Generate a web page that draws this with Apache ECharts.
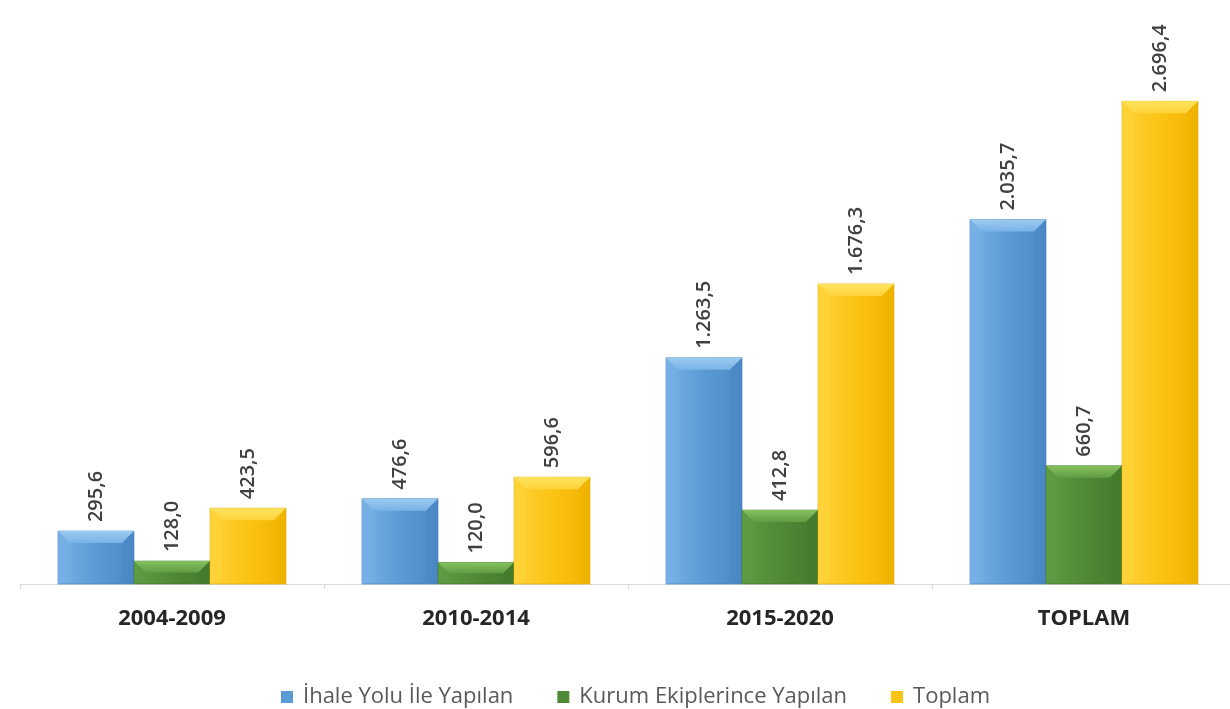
<!DOCTYPE html>
<html>
<head>
<meta charset="utf-8">
<script src="https://cdn.jsdelivr.net/npm/echarts@6/dist/echarts.min.js"></script>
<style>
  html, body { margin: 0; padding: 0; background: #ffffff; }
  #chart { width: 1230px; height: 709px; }
</style>
</head>
<body>
<div id="chart"></div>
<script>
// Periods shown along the x axis
const categories = ['2004-2009', '2010-2014', '2015-2020', 'TOPLAM'];

// Values per series (same order as categories)
const ihaleYolu = [295.6, 476.6, 1263.5, 2035.7];
const kurumEkipleri = [128.0, 120.0, 412.8, 660.7];
const toplam = [423.5, 596.6, 1676.3, 2696.4];

const seriesNames = ['İhale Yolu İle Yapılan', 'Kurum Ekiplerince Yapılan', 'Toplam'];
const seriesValues = [ihaleYolu, kurumEkipleri, toplam];

// Colour sets for the bevelled bars
const palettes = [
  { main: '#5b9bd5', light: '#79b2e6', dark: '#4a88c4', top: '#9ccbf1', edge: '#3f7bb6' },
  { main: '#4f8a36', light: '#5f9c43', dark: '#437a2d', top: '#86c160', edge: '#3b6e27' },
  { main: '#fbc314', light: '#ffd33a', dark: '#f0b400', top: '#ffe45e', edge: '#e1a800' }
];

// Turkish number format: 2.696,4
function formatTr(v) {
  const parts = v.toFixed(1).split('.');
  const intPart = parts[0].replace(/\B(?=(\d{3})+(?!\d))/g, '.');
  return intPart + ',' + parts[1];
}

function makeRenderer(idx) {
  const pal = palettes[idx];
  return function (params, api) {
    const cat = api.value(0);
    const val = api.value(1);
    const base = api.coord([cat, 0]);
    const topPt = api.coord([cat, val]);
    const catW = api.size([1, 0])[0];
    const bw = catW * 0.25;
    const x0 = base[0] + (idx - 1.5) * bw;
    const x1 = x0 + bw;
    const y0 = topPt[1];
    const y1 = base[1];
    const h = y1 - y0;
    const b = Math.min(12, h / 2);
    return {
      type: 'group',
      children: [
        {
          type: 'rect',
          shape: { x: x0, y: y0, width: bw, height: h },
          style: {
            fill: new echarts.graphic.LinearGradient(0, 0, 1, 0, [
              { offset: 0, color: pal.light },
              { offset: 0.5, color: pal.main },
              { offset: 1, color: pal.dark }
            ]),
            stroke: pal.edge,
            lineWidth: 0.6
          }
        },
        {
          type: 'polygon',
          shape: { points: [[x0, y0], [x1, y0], [x1 - b, y0 + b], [x0 + b, y0 + b]] },
          style: {
            fill: new echarts.graphic.LinearGradient(0, 0, 0, 1, [
              { offset: 0, color: pal.top },
              { offset: 1, color: pal.light }
            ])
          }
        },
        {
          type: 'polygon',
          shape: { points: [[x0, y0], [x0 + b, y0 + b], [x0 + b, y1 - Math.min(b, 3)], [x0, y1]] },
          style: { fill: pal.light, opacity: 0.45 }
        },
        {
          type: 'polygon',
          shape: { points: [[x1, y0], [x1 - b, y0 + b], [x1 - b, y1 - Math.min(b, 3)], [x1, y1]] },
          style: { fill: pal.dark, opacity: 0.45 }
        },
        {
          type: 'text',
          x: (x0 + x1) / 2,
          y: y0 - 9,
          rotation: Math.PI / 2,
          style: {
            text: formatTr(val),
            fill: '#404040',
            font: '600 20px "Open Sans", sans-serif',
            align: 'left',
            verticalAlign: 'middle'
          }
        }
      ]
    };
  };
}

const chart = echarts.init(document.getElementById('chart'));

chart.setOption({
  backgroundColor: '#ffffff',
  animation: false,
  grid: { left: 20, width: 1216, top: 47, bottom: 125, outerBoundsMode: 'none' },
  legend: {
    data: seriesNames,
    top: 681,
    left: 276,
    icon: 'rect',
    itemWidth: 12,
    itemHeight: 12,
    itemGap: 44,
    textStyle: {
      color: '#595959',
      fontSize: 22,
      fontFamily: '"Open Sans", sans-serif',
      padding: [0, 0, 0, 5]
    }
  },
  xAxis: {
    type: 'category',
    data: categories,
    axisLine: { lineStyle: { color: '#d9d9d9' } },
    axisTick: { show: true, length: 5, lineStyle: { color: '#d9d9d9' } },
    axisLabel: {
      color: '#262626',
      fontSize: 22,
      fontWeight: 'bold',
      fontFamily: '"Open Sans", sans-serif',
      margin: 24
    }
  },
  yAxis: {
    type: 'value',
    min: 0,
    max: 3000,
    show: false,
    splitLine: { show: false }
  },
  series: seriesValues.map(function (vals, i) {
    return {
      name: seriesNames[i],
      type: 'custom',
      renderItem: makeRenderer(i),
      itemStyle: { color: palettes[i].main },
      encode: { x: 0, y: 1 },
      data: vals.map(function (v, j) { return [j, v]; })
    };
  })
});
</script>
</body>
</html>
